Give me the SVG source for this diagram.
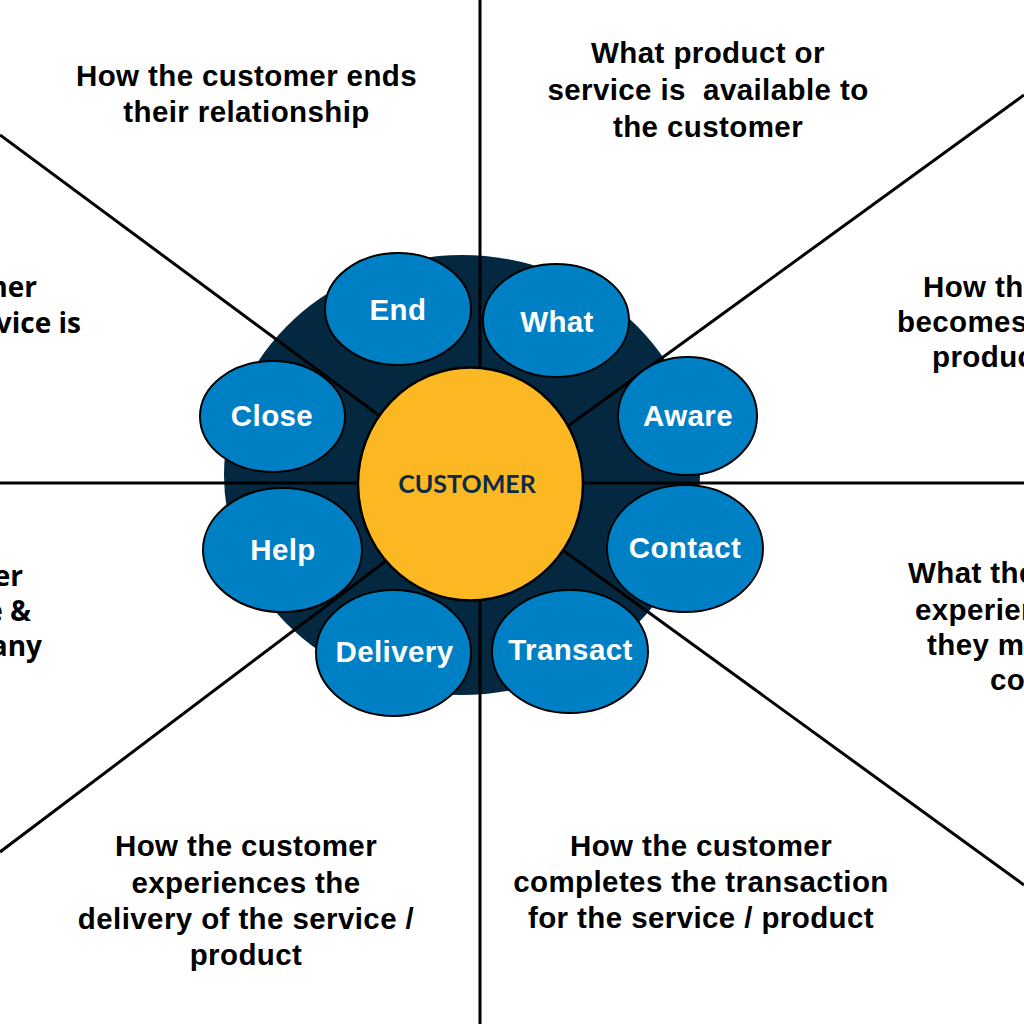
<svg xmlns="http://www.w3.org/2000/svg" width="1024" height="1024" viewBox="0 0 1024 1024">
<style>
.bg{fill:#ffffff}
.hub{fill:#03283f}
.conn{stroke:#000000;stroke-width:3;fill:none}
.stage{fill:#0080c4;stroke:#000000;stroke-width:2}
.core{fill:#fbb823;stroke:#000000;stroke-width:2.5}
.lbl{font-family:"Liberation Sans",Arial,sans-serif;font-weight:bold;font-size:29.5px;letter-spacing:0.4px;fill:#ffffff;text-anchor:middle}
.core-t{font-family:Lato,"Open Sans",sans-serif;font-weight:700;font-size:25px;fill:#0d2b45;text-anchor:middle}
.desc{font-family:"Liberation Sans",Arial,sans-serif;font-weight:bold;font-size:29.5px;letter-spacing:0.4px;fill:#000000;text-anchor:middle}
.desc-l{font-family:"Open Sans","Liberation Sans",sans-serif;font-weight:bold;font-size:28px;fill:#000000;text-anchor:end}
.desc-r{font-family:"Liberation Sans",Arial,sans-serif;font-weight:bold;font-size:29.5px;letter-spacing:0.4px;fill:#000000;text-anchor:start}
</style>
<rect class="bg" x="0" y="0" width="1024" height="1024"/>
<g id="hub-background">
<ellipse class="hub" cx="462" cy="475" rx="238" ry="220"/>
</g>
<g id="connectors">
<line class="conn" x1="480" y1="0" x2="480" y2="1024"/>
<line class="conn" x1="0" y1="483" x2="1024" y2="483"/>
<line class="conn" x1="0" y1="135" x2="480" y2="490"/>
<line class="conn" x1="1024" y1="95" x2="480" y2="490"/>
<line class="conn" x1="0" y1="852" x2="480" y2="490"/>
<line class="conn" x1="1024" y1="885" x2="480" y2="490"/>
</g>
<g id="node-end">
<ellipse class="stage" cx="398" cy="309" rx="73" ry="56"/>
<text class="lbl" x="398" y="320">End</text>
</g>
<g id="node-what">
<ellipse class="stage" cx="556" cy="320.5" rx="73" ry="56.5"/>
<text class="lbl" x="557" y="332">What</text>
</g>
<g id="node-close">
<ellipse class="stage" cx="272.5" cy="416.5" rx="72.5" ry="55.5"/>
<text class="lbl" x="272" y="426">Close</text>
</g>
<g id="node-aware">
<ellipse class="stage" cx="687.5" cy="416" rx="69.5" ry="59"/>
<text class="lbl" x="688" y="426">Aware</text>
</g>
<g id="node-help">
<ellipse class="stage" cx="282.5" cy="550" rx="79.5" ry="62"/>
<text class="lbl" x="283" y="560">Help</text>
</g>
<g id="node-contact">
<ellipse class="stage" cx="685" cy="548.5" rx="78" ry="63.5"/>
<text class="lbl" x="685" y="558">Contact</text>
</g>
<g id="node-delivery">
<ellipse class="stage" cx="393.5" cy="653" rx="77.5" ry="63"/>
<text class="lbl" x="394.5" y="662">Delivery</text>
</g>
<g id="node-transact">
<ellipse class="stage" cx="570" cy="651.5" rx="78" ry="61.5"/>
<text class="lbl" x="570.5" y="660">Transact</text>
</g>
<g id="node-customer">
<ellipse class="core" cx="470.5" cy="484" rx="112.5" ry="116.5"/>
<text class="core-t" x="467" y="493">CUSTOMER</text>
</g>
<g id="labels">
<text class="desc" x="246.5" y="86">How the customer ends</text>
<text class="desc" x="246.5" y="122">their relationship</text>
<text class="desc" x="708" y="63">What product or</text>
<text class="desc" x="708" y="100" xml:space="preserve">service is  available to</text>
<text class="desc" x="708" y="137">the customer</text>
<text class="desc" x="246" y="856">How the customer</text>
<text class="desc" x="246" y="893">experiences the</text>
<text class="desc" x="246" y="929">delivery of the service /</text>
<text class="desc" x="246" y="965">product</text>
<text class="desc" x="701" y="856">How the customer</text>
<text class="desc" x="701" y="892">completes the transaction</text>
<text class="desc" x="701" y="928">for the service / product</text>
<text class="desc-l" x="37" y="297">mer</text>
<text class="desc-l" x="81" y="333">vice is</text>
<text class="desc-l" x="23" y="586">er</text>
<text class="desc-l" x="31" y="621">e &amp;</text>
<text class="desc-l" x="42" y="656">any</text>
<text class="desc-r" x="923" y="297">How the</text>
<text class="desc-r" x="897" y="332">becomes</text>
<text class="desc-r" x="932" y="367">produc</text>
<text class="desc-r" x="908" y="583">What the</text>
<text class="desc-r" x="915" y="620">experien</text>
<text class="desc-r" x="927" y="655">they ma</text>
<text class="desc-r" x="990" y="690">co</text>
</g>
</svg>
